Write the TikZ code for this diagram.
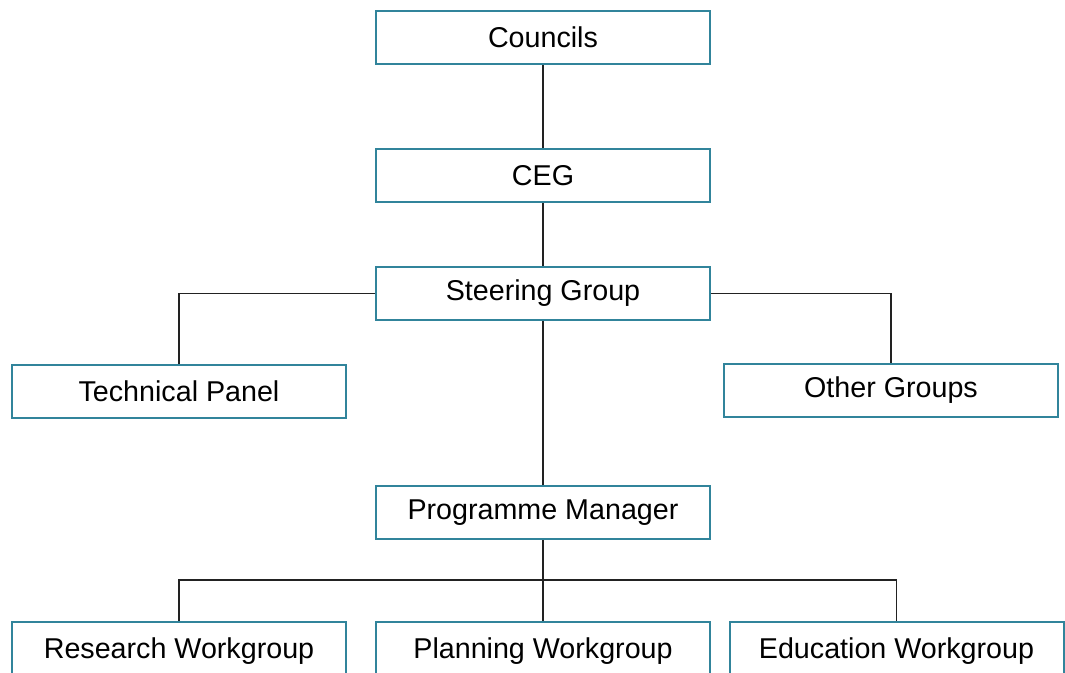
\documentclass[tikz,border=0pt]{standalone}
\usepackage{fontspec}
\setmainfont{Liberation Sans}
\definecolor{boxteal}{HTML}{31849B}
\definecolor{linegray}{HTML}{222222}
\begin{document}
\begin{tikzpicture}[x=0.75pt,y=-0.75pt,
  orgbox/.style={draw=boxteal,line width=1.5pt,fill=white,minimum width=334*0.75pt,minimum height=53*0.75pt,inner sep=0pt,font=\fontsize{21.5}{24}\selectfont,text=black},
  conn/.style={draw=linegray,line width=1.2pt}]
\useasboundingbox (0,0) rectangle (1065,672);
\node[orgbox] (councils) at (543,37.5) {Councils};
\node[orgbox] (ceg) at (543,175.5) {CEG};
\node[orgbox] (steer) at (543,293.5) {Steering Group};
\node[orgbox] (tech) at (179,391.5) {Technical Panel};
\node[orgbox] (other) at (891,390.5) {Other Groups};
\node[orgbox] (pm) at (543,512.5) {Programme Manager};
\node[orgbox,minimum height=59*0.75pt] (research) at (179,651.5) {Research Workgroup};
\node[orgbox,minimum height=59*0.75pt] (planning) at (543,651.5) {Planning Workgroup};
\node[orgbox,minimum height=59*0.75pt] (education) at (896.5,651.5) {Education Workgroup};
\coordinate (bar) at (543,580);
\draw[conn] (councils.south) -- (ceg.north);
\draw[conn] (ceg.south) -- (steer.north);
\draw[conn] (steer.west) -| (tech.north);
\draw[conn] (steer.east) -| (other.north);
\draw[conn] (steer.south) -- (pm.north);
\draw[conn] (pm.south) -- (planning.north);
\draw[conn] (research.north) |- (bar) -| (education.north);
\end{tikzpicture}
\end{document}
